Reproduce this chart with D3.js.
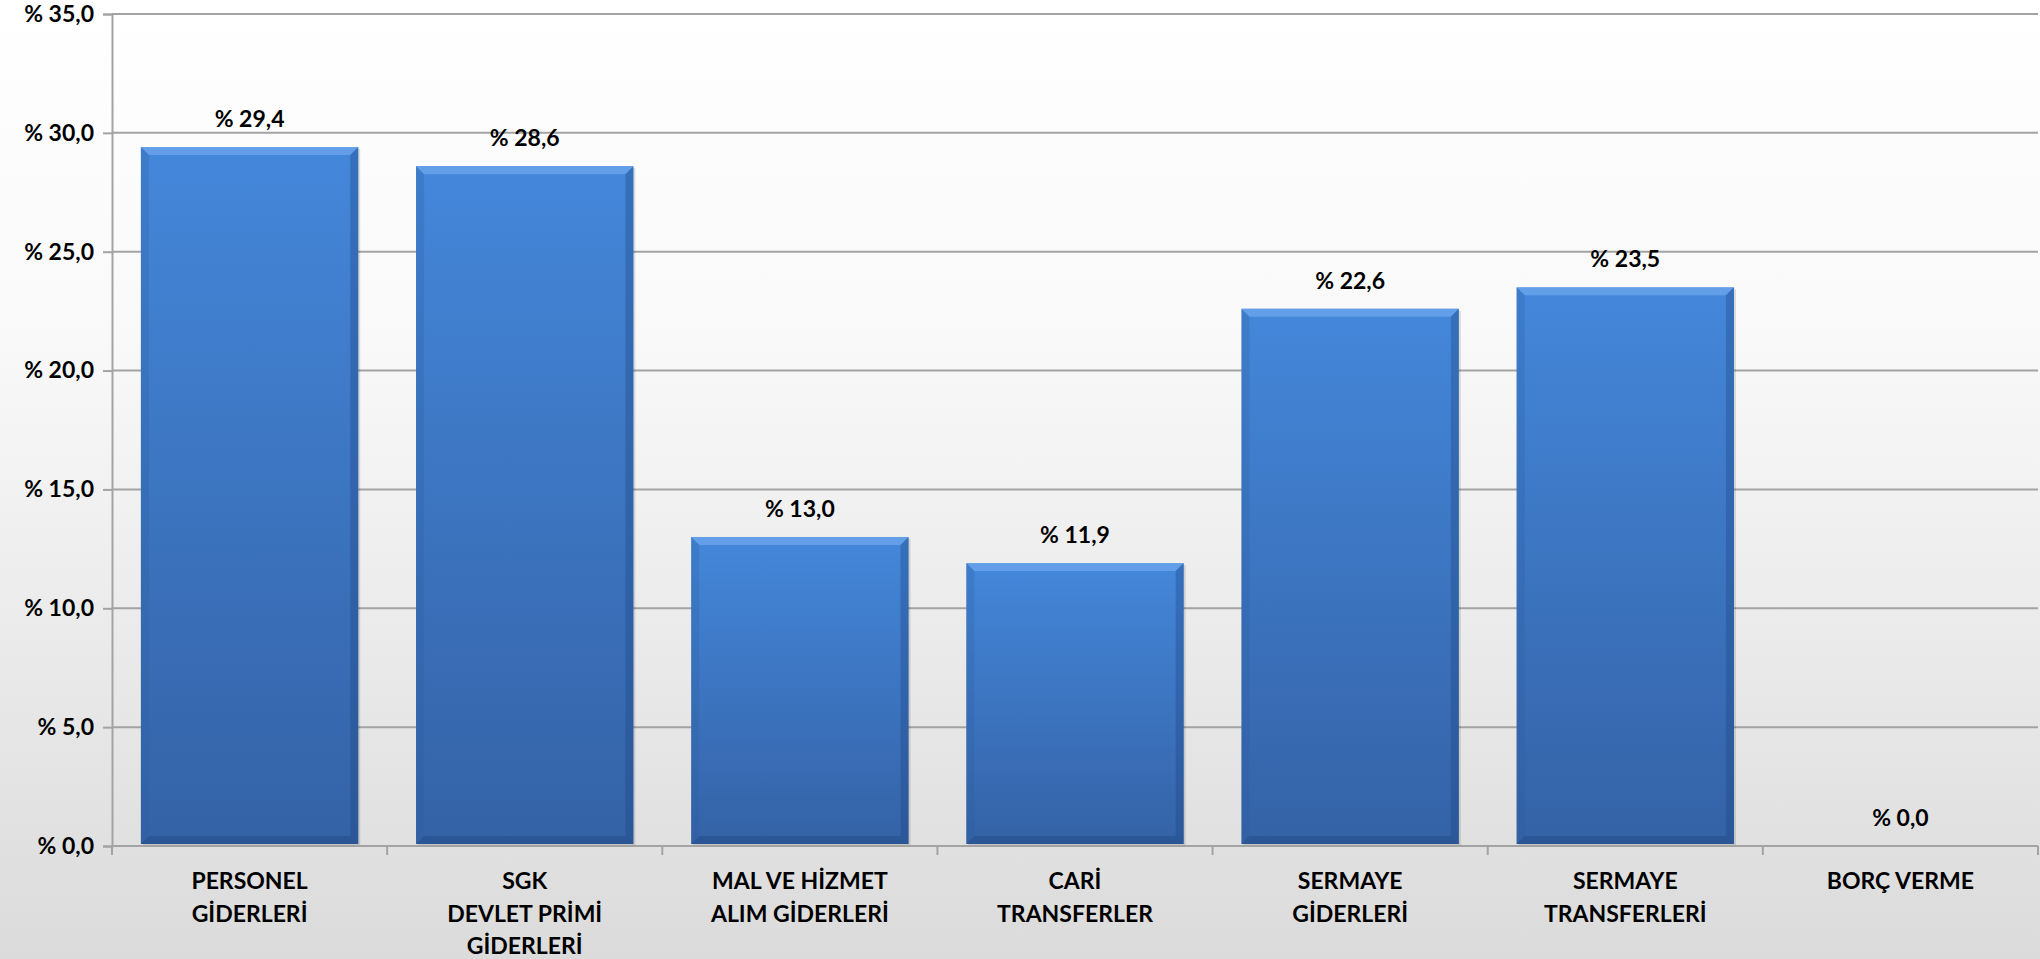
<!DOCTYPE html>
<html>
<head>
<meta charset="utf-8">
<script src="https://cdn.jsdelivr.net/npm/d3@7"></script>
<style>
  html, body { margin: 0; padding: 0; background: #fff; }
  svg { display: block; }
  text { font-family: Lato, "Open Sans", "Noto Sans", sans-serif; font-weight: 700; fill: #000; }
</style>
</head>
<body>
<svg id="chart" width="2040" height="959"></svg>
<script>
const categories = [
  ["PERSONEL", "GİDERLERİ"],
  ["SGK", "DEVLET PRİMİ", "GİDERLERİ"],
  ["MAL VE HİZMET", "ALIM GİDERLERİ"],
  ["CARİ", "TRANSFERLER"],
  ["SERMAYE", "GİDERLERİ"],
  ["SERMAYE", "TRANSFERLERİ"],
  ["BORÇ VERME"]
];
const values = [29.4, 28.6, 13.0, 11.9, 22.6, 23.5, 0.0];
const yTicks = [0, 5, 10, 15, 20, 25, 30, 35];

const W = 2040, H = 959;
const margin = { left: 112, right: 2, top: 14, bottom: 113 };
const FS = 23;
const svg = d3.select("#chart");
const defs = svg.append("defs");

const bg = defs.append("linearGradient").attr("id", "bg").attr("x1", 0).attr("y1", 0).attr("x2", 0).attr("y2", 1);
bg.append("stop").attr("offset", "0%").attr("stop-color", "#ffffff");
bg.append("stop").attr("offset", "35%").attr("stop-color", "#f9f9f9");
bg.append("stop").attr("offset", "100%").attr("stop-color", "#dbdbdb");
svg.append("rect").attr("width", W).attr("height", H).attr("fill", "url(#bg)");

const barG = defs.append("linearGradient").attr("id", "barfill").attr("x1", 0).attr("y1", 0).attr("x2", 0).attr("y2", 1);
barG.append("stop").attr("offset", "0%").attr("stop-color", "#4487da");
barG.append("stop").attr("offset", "100%").attr("stop-color", "#3462a6");

const x = d3.scaleBand()
  .domain(d3.range(categories.length))
  .range([margin.left, W - margin.right])
  .paddingInner(0.21)
  .paddingOuter(0.105);
const y = d3.scaleLinear().domain([0, 35]).range([H - margin.bottom, margin.top]);

// gridlines
svg.append("g").selectAll("line").data(yTicks.filter(d => d > 0)).join("line")
  .attr("x1", margin.left).attr("x2", W - margin.right)
  .attr("y1", d => y(d)).attr("y2", d => y(d))
  .attr("stroke", "#a3a3a3").attr("stroke-width", 2);

// y axis
const yAxis = svg.append("g").attr("transform", `translate(${margin.left},0)`)
  .call(d3.axisLeft(y).tickValues(yTicks).tickSize(9).tickPadding(9)
    .tickFormat(d => "% " + d3.format(".1f")(d).replace(".", ",")));
yAxis.selectAll("path, line").attr("stroke", "#a3a3a3").attr("stroke-width", 2);
yAxis.selectAll("text").attr("font-size", FS).attr("font-family", "Lato, sans-serif").attr("font-weight", 700).attr("fill", "#000");

// bars
const bars = svg.append("g").selectAll("g").data(values).join("g");
const bw = x.bandwidth();
const bev = 8;
bars.each(function(v, i) {
  const g = d3.select(this);
  if (v <= 0) return;
  const x0 = x(i), x1 = x0 + bw, y0 = y(v), y1 = y(0) - 2;
  g.append("rect").attr("x", x0 + 2).attr("y", y0 + 2).attr("width", bw).attr("height", y1 - y0)
    .attr("fill", "#000").attr("opacity", 0.12);
  g.append("rect").attr("x", x0).attr("y", y0).attr("width", bw).attr("height", y1 - y0)
    .attr("fill", "url(#barfill)");
  const b = Math.min(bev, (y1 - y0) / 2);
  g.append("path").attr("d", `M${x0},${y0}L${x1},${y0}L${x1 - b},${y0 + b}L${x0 + b},${y0 + b}Z`)
    .attr("fill", "#6fa9ee").attr("opacity", 0.7);
  g.append("path").attr("d", `M${x0},${y0}L${x0 + b},${y0 + b}L${x0 + b},${y1 - b}L${x0},${y1}Z`)
    .attr("fill", "#2c5a9a").attr("opacity", 0.25);
  g.append("path").attr("d", `M${x1},${y0}L${x1 - b},${y0 + b}L${x1 - b},${y1 - b}L${x1},${y1}Z`)
    .attr("fill", "#1d4680").attr("opacity", 0.35);
  g.append("path").attr("d", `M${x0},${y1}L${x0 + b},${y1 - b}L${x1 - b},${y1 - b}L${x1},${y1}Z`)
    .attr("fill", "#1d4680").attr("opacity", 0.4);
});

// x axis
const xAxisG = svg.append("g");
xAxisG.append("line").attr("x1", margin.left).attr("x2", W - margin.right)
  .attr("y1", y(0)).attr("y2", y(0)).attr("stroke", "#a3a3a3").attr("stroke-width", 2);
const bounds = d3.range(categories.length + 1).map(i =>
  i < categories.length ? x(i) - x.step() * x.paddingInner() / 2 : W - margin.right);
xAxisG.selectAll("line.tick").data(bounds).join("line").attr("class", "tick")
  .attr("x1", d => d).attr("x2", d => d).attr("y1", y(0)).attr("y2", y(0) + 9)
  .attr("stroke", "#a3a3a3").attr("stroke-width", 2);

// category labels
svg.append("g").selectAll("text").data(categories).join("text")
  .attr("text-anchor", "middle").attr("font-size", FS)
  .attr("x", (d, i) => x(i) + bw / 2)
  .attr("y", 889)
  .each(function(lines) {
    const t = d3.select(this);
    lines.forEach((ln, k) => t.append("tspan").attr("x", t.attr("x")).attr("dy", k === 0 ? 0 : 32.5).text(ln));
  });

// value labels
svg.append("g").selectAll("text").data(values).join("text")
  .attr("text-anchor", "middle").attr("font-size", FS)
  .attr("x", (d, i) => x(i) + bw / 2)
  .attr("y", d => y(d) - 20)
  .text(d => "% " + d3.format(".1f")(d).replace(".", ","));
</script>
</body>
</html>
